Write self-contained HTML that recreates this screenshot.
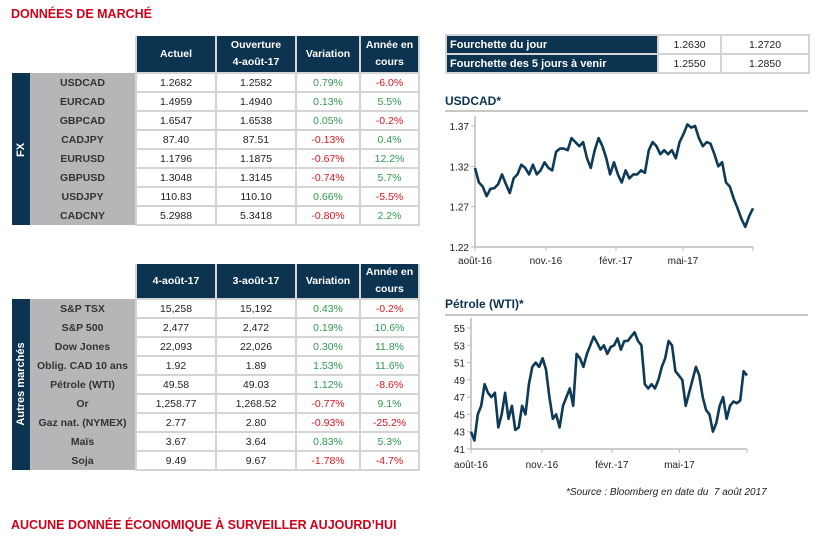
<!DOCTYPE html>
<html><head><meta charset="utf-8">
<style>
*{margin:0;padding:0;box-sizing:border-box}
body{width:821px;height:557px;background:#fff;position:relative;overflow:hidden;font-family:"Liberation Sans",sans-serif}
.ttl{position:absolute;color:#d0021b;font-weight:bold;font-size:12.5px;letter-spacing:0px}
table{position:absolute;border-collapse:collapse;font-size:10.5px;table-layout:fixed}
td{border:2px solid #d4d4d4;text-align:center;padding:0;color:#222;height:19px;white-space:nowrap;overflow:hidden}
th{background:#0c3350;color:#fff;font-weight:bold;font-size:10.5px;border:2px solid #d4d4d4;border-top:none;line-height:17px;white-space:nowrap}
td.lab{background:#b6b6b8;color:#333;font-weight:bold;border:none;font-size:10.5px}
td.side{background:#0c3350;border:none}
.g{color:#2e9a4f}.r{color:#e0141e}
.sl{position:absolute;color:#fff;font-weight:bold;font-size:11px;white-space:nowrap;transform:translate(-50%,-50%) rotate(-90deg)}
.ch{position:absolute;font-weight:bold;color:#0c3350;font-size:12px}
.rule{position:absolute;height:2px;background:#c8c8c8}
</style></head><body>
<div class="ttl" style="left:11px;top:7px">DONNÉES DE MARCHÉ</div>

<table style="left:12px;top:36px;width:407px">
<colgroup><col style="width:18px"><col style="width:106px"><col style="width:80px"><col style="width:80px"><col style="width:64px"><col style="width:59px"></colgroup>
<tr style="height:37px"><th style="background:#fff;border:none"></th><th style="background:#fff;border:none"></th><th>Actuel</th><th>Ouverture<br>4-août-17</th><th>Variation</th><th>Année en<br>cours</th></tr>
<tr><td class="side" rowspan="8"></td><td class="lab">USDCAD</td><td>1.2682</td><td>1.2582</td><td class="g">0.79%</td><td class="r">-6.0%</td></tr>
<tr><td class="lab">EURCAD</td><td>1.4959</td><td>1.4940</td><td class="g">0.13%</td><td class="g">5.5%</td></tr>
<tr><td class="lab">GBPCAD</td><td>1.6547</td><td>1.6538</td><td class="g">0.05%</td><td class="r">-0.2%</td></tr>
<tr><td class="lab">CADJPY</td><td>87.40</td><td>87.51</td><td class="r">-0.13%</td><td class="g">0.4%</td></tr>
<tr><td class="lab">EURUSD</td><td>1.1796</td><td>1.1875</td><td class="r">-0.67%</td><td class="g">12.2%</td></tr>
<tr><td class="lab">GBPUSD</td><td>1.3048</td><td>1.3145</td><td class="r">-0.74%</td><td class="g">5.7%</td></tr>
<tr><td class="lab">USDJPY</td><td>110.83</td><td>110.10</td><td class="g">0.66%</td><td class="r">-5.5%</td></tr>
<tr><td class="lab">CADCNY</td><td>5.2988</td><td>5.3418</td><td class="r">-0.80%</td><td class="g">2.2%</td></tr>
</table>
<div class="sl" style="left:21px;top:150px">FX</div>

<table style="left:12px;top:264px;width:407px">
<colgroup><col style="width:18px"><col style="width:106px"><col style="width:80px"><col style="width:80px"><col style="width:64px"><col style="width:59px"></colgroup>
<tr style="height:33px"><th style="background:#fff;border:none"></th><th style="background:#fff;border:none"></th><th>4-août-17</th><th>3-août-17</th><th>Variation</th><th>Année en<br>cours</th></tr>
<tr><td class="side" rowspan="9"></td><td class="lab">S&amp;P TSX</td><td>15,258</td><td>15,192</td><td class="g">0.43%</td><td class="r">-0.2%</td></tr>
<tr><td class="lab">S&amp;P 500</td><td>2,477</td><td>2,472</td><td class="g">0.19%</td><td class="g">10.6%</td></tr>
<tr><td class="lab">Dow Jones</td><td>22,093</td><td>22,026</td><td class="g">0.30%</td><td class="g">11.8%</td></tr>
<tr><td class="lab">Oblig. CAD 10 ans</td><td>1.92</td><td>1.89</td><td class="g">1.53%</td><td class="g">11.6%</td></tr>
<tr><td class="lab">Pétrole (WTI)</td><td>49.58</td><td>49.03</td><td class="g">1.12%</td><td class="r">-8.6%</td></tr>
<tr><td class="lab">Or</td><td>1,258.77</td><td>1,268.52</td><td class="r">-0.77%</td><td class="g">9.1%</td></tr>
<tr><td class="lab">Gaz nat. (NYMEX)</td><td>2.77</td><td>2.80</td><td class="r">-0.93%</td><td class="r">-25.2%</td></tr>
<tr><td class="lab">Maïs</td><td>3.67</td><td>3.64</td><td class="g">0.83%</td><td class="g">5.3%</td></tr>
<tr><td class="lab">Soja</td><td>9.49</td><td>9.67</td><td class="r">-1.78%</td><td class="r">-4.7%</td></tr>
</table>
<div class="sl" style="left:21px;top:384px">Autres marchés</div>

<table style="left:445px;top:34px;width:363px">
<colgroup><col style="width:212px"><col style="width:63px"><col style="width:88px"></colgroup>
<tr><td style="background:#0c3350;color:#fff;font-weight:bold;text-align:left;padding-left:3px;font-size:11px">Fourchette du jour</td><td>1.2630</td><td>1.2720</td></tr>
<tr><td style="background:#0c3350;color:#fff;font-weight:bold;text-align:left;padding-left:3px;font-size:11px">Fourchette des 5 jours à venir</td><td>1.2550</td><td>1.2850</td></tr>
</table>

<div class="ch" style="left:445px;top:94px">USDCAD*</div>
<div class="rule" style="left:445px;top:110px;width:363px"></div>
<div class="ch" style="left:445px;top:297px">Pétrole (WTI)*</div>
<div class="rule" style="left:445px;top:314px;width:363px"></div>

<svg id="svg" width="821" height="557" style="position:absolute;left:0;top:0" font-family="Liberation Sans, sans-serif" font-size="10"></svg>

<div style="position:absolute;left:566px;top:487px;font-size:10px;font-style:italic;color:#222">*Source : Bloomberg en date du &nbsp;7 août 2017</div>
<div class="ttl" style="left:11px;top:518px">AUCUNE DONNÉE ÉCONOMIQUE À SURVEILLER AUJOURD’HUI</div>

<script>
const usdTicks=[1.22,1.27,1.32,1.37];
const usdXLabels=["août-16","nov.-16","févr.-17","mai-17"];
const usdValues=[1.318,1.30,1.295,1.283,1.292,1.293,1.298,1.31,1.298,1.287,1.305,1.31,1.322,1.318,1.31,1.322,1.31,1.315,1.325,1.318,1.315,1.338,1.342,1.342,1.34,1.355,1.35,1.345,1.35,1.33,1.318,1.34,1.355,1.345,1.33,1.31,1.325,1.31,1.3,1.315,1.305,1.31,1.31,1.315,1.312,1.34,1.35,1.345,1.335,1.34,1.335,1.34,1.33,1.35,1.36,1.372,1.368,1.37,1.355,1.345,1.35,1.348,1.335,1.32,1.325,1.3,1.295,1.28,1.268,1.255,1.245,1.258,1.268];
const wtiTicks=[41,43,45,47,49,51,53,55];
const wtiXLabels=["août-16","nov.-16","févr.-17","mai-17"];
const wtiValues=[43,42,45,46,48.5,47.5,47,47.5,43.5,45,47.5,44.5,46,43.2,43.5,46,45,48.5,50.5,51,50.5,51.5,50.2,47,44.5,45,43.5,46,47,48,46,52,51.5,50.5,52,53,54,53.3,52.5,53,52,52.8,53,53.8,52.5,53.5,53.5,54,54.5,53.5,53,48.5,48,48.5,48,49,50.5,51.5,53.5,53,50,49.5,49,46,47.5,49,50.5,49.5,47,45.5,45,43,44,46,47,44.5,46,46.5,46.3,46.6,50,49.5];

const svg=document.getElementById('svg');
const NS='http://www.w3.org/2000/svg';
function mk(t,a){const e=document.createElementNS(NS,t);for(const k in a)e.setAttribute(k,a[k]);svg.appendChild(e);return e;}
function chart(name,vals,ticks,xl,x0,x1,y0,y1,lblY,xlPos){
  const mn=ticks[0],mx=ticks[ticks.length-1];
  const X=i=>x0+(x1-x0)*i/(vals.length-1);
  const Y=v=>y1-(v-mn)/(mx-mn)*(y1-y0);
  const ax=mk('path',{d:`M${x0} ${y0-10}V${y1}H${x1}`,stroke:'#bbb','stroke-width':1.5,fill:'none'});
  
  
  ticks.forEach(t=>{
    mk('line',{x1:x0-4,x2:x0,y1:Y(t),y2:Y(t),stroke:'#bbb'});
    const tx=mk('text',{x:x0-6,y:Y(t)+4,'text-anchor':'end',fill:'#222'});
    tx.textContent=t.toFixed(name==='usdcad'?2:0);
    
    
  });
  xl.forEach((l,i)=>{
    const px=x0+(x1-x0)*xlPos[i];
    mk('line',{x1:px,x2:px,y1:y1,y2:y1+4,stroke:'#bbb'});
    const tx=mk('text',{x:px,y:lblY,'text-anchor':'middle',fill:'#222'});
    tx.textContent=l;
    
    
  });
  mk('line',{x1:x1,x2:x1,y1:y1,y2:y1+4,stroke:'#bbb'});
  const p=mk('polyline',{points:vals.map((v,i)=>X(i).toFixed(1)+','+Y(v).toFixed(1)).join(' '),fill:'none',stroke:'#0d3a56','stroke-width':2.6,'stroke-linejoin':'round'});
  
  
}
chart('usdcad',usdValues,usdTicks,usdXLabels,475,753,126,247,264,[0,0.255,0.507,0.748]);
chart('wti',wtiValues,wtiTicks,wtiXLabels,471,747,328,449,468,[0,0.257,0.51,0.755]);
</script>
</body></html>
